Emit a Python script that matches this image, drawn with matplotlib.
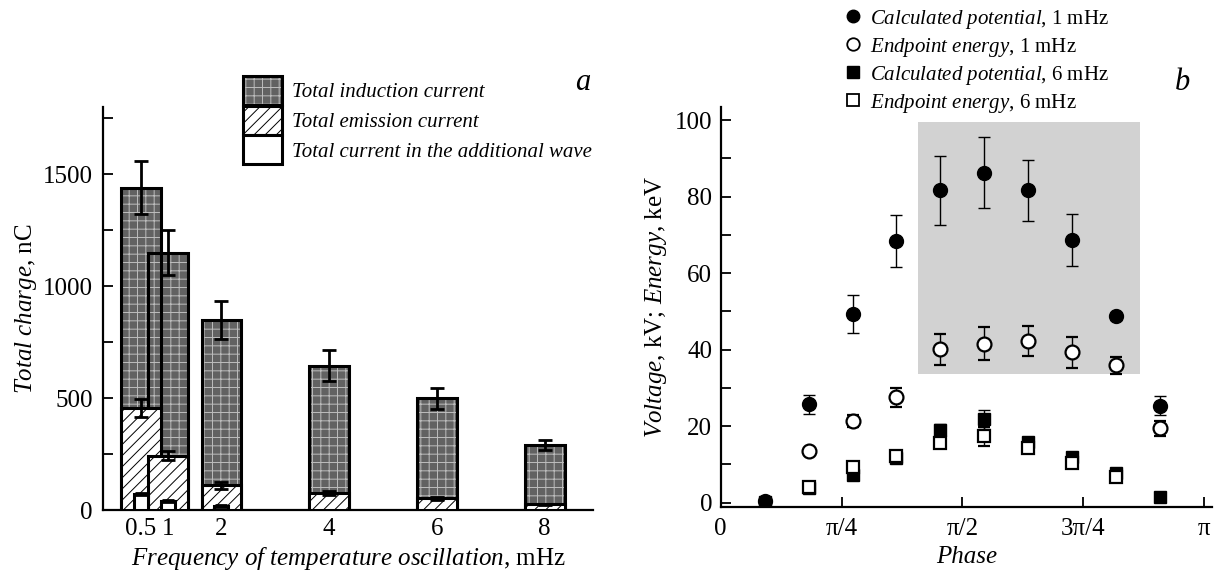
import numpy as np
import matplotlib.pyplot as plt
from matplotlib.patches import Patch, Rectangle
from matplotlib.lines import Line2D

plt.rcParams['font.family'] = ['Liberation Serif', 'DejaVu Serif']
plt.rcParams['mathtext.fontset'] = 'custom'
plt.rcParams['mathtext.rm'] = 'Liberation Serif'
plt.rcParams['mathtext.it'] = 'Liberation Serif:italic'
plt.rcParams['hatch.linewidth'] = 0.7

# ---- panel a : total charge vs frequency
freq = [0.5, 1, 2, 4, 6, 8]
freq_labels = ['0.5', '1', '2', '4', '6', '8']
induction = [1440, 1150, 850, 645, 500, 290]
induction_err = [120, 100, 85, 70, 47, 22]
emission = [455, 242, 110, 75, 52, 25]
emission_err = [40, 20, 15, 8, 5, 3]
wave_freq = [0.5, 1, 2]
wave = [72, 40, 18]
wave_err = [6, 4, 3]

# ---- panel b : voltage / energy vs phase
ph = [0.286, 0.571, 0.857, 1.142, 1.428, 1.714, 2.000, 2.285, 2.570, 2.856]
calc1 = [0.5, 25.7, 49.3, 68.4, 81.7, 86.3, 81.6, 68.7, 48.7, 25.4]
calc1_err = [0, 2.5, 5, 6.7, 9, 9.4, 8, 6.8, 1, 2.5]
end1_ph = ph[1:]
end1 = [13.5, 21.4, 27.5, 40.1, 41.6, 42.3, 39.3, 35.9, 19.4]
end1_err = [0.5, 1.5, 2.5, 4, 4.2, 4, 4, 2.3, 2]
calc6 = [0.3, 3.8, 7.2, 11.8, 19.0, 21.8, 15.9, 12.0, 7.8, 1.6]
calc6_err = [0, 0, 0.5, 0.5, 1.5, 2.5, 1, 0.5, 0.5, 0]
end6_ph = ph[1:9]
end6 = [4.2, 9.4, 12.2, 15.7, 17.4, 14.4, 10.5, 6.6]
end6_err = [1, 0.5, 0.5, 1.5, 2.5, 1, 0.5, 0.5]

fig = plt.figure(figsize=(12.19, 5.78), dpi=100)
ax1 = fig.add_axes([0.0845, 0.1176, 0.402, 0.6973])
ax2 = fig.add_axes([0.5912, 0.1223, 0.4031, 0.6931])

IND_FACE, IND_HATCH = '#626262', '#bdbdbd'
bw = 0.74
# induction bars (texture + outline)
ax1.bar(freq, induction, width=bw, color=IND_FACE, hatch='++', edgecolor=IND_HATCH, lw=0, zorder=2)
ax1.bar(freq, induction, width=bw, fill=False, edgecolor='k', lw=2.2, zorder=2.1)
ax1.errorbar(freq, induction, yerr=induction_err, fmt='none', ecolor='k', elinewidth=2,
             capsize=5, capthick=2, zorder=2.2)
# emission bars
ax1.bar(freq, emission, width=bw, facecolor='white', hatch='///', edgecolor='k', lw=2.2, zorder=3)
ax1.errorbar(freq, emission, yerr=emission_err, fmt='none', ecolor='k', elinewidth=2,
             capsize=5, capthick=2, zorder=3.1)
# additional wave
ax1.bar(wave_freq, wave, width=0.26, facecolor='white', edgecolor='k', lw=2.2, zorder=4)
ax1.errorbar(wave_freq, wave, yerr=wave_err, fmt='none', ecolor='k', elinewidth=2,
             capsize=4, capthick=2, zorder=4.1)

ax1.set_xlim(-0.2, 8.9)
ax1.set_ylim(0, 1800)
ax1.set_xticks(freq)
ax1.set_xticklabels(freq_labels)
ax1.set_yticks([0, 500, 1000, 1500])
ax1.set_yticks([250, 750, 1250, 1750], minor=True)
ax1.tick_params(axis='y', which='both', direction='in', length=7, width=1.3, labelsize=18, pad=7.5)
ax1.tick_params(axis='x', length=0, labelsize=18, pad=6)
ax1.set_ylabel(r'$\it{Total\ charge}$, nC', fontsize=18, labelpad=2.5)
ax1.set_xlabel(r'$\it{Frequency\ of\ temperature\ oscillation}$, mHz', fontsize=18, labelpad=3)
for s in ['top', 'right']:
    ax1.spines[s].set_visible(False)
for s in ['left', 'bottom']:
    ax1.spines[s].set_linewidth(1.6)

h_ind = (Patch(facecolor=IND_FACE, hatch='++', edgecolor=IND_HATCH, lw=0),
         Patch(fill=False, edgecolor='k', lw=2.2))
h_em = Patch(facecolor='white', hatch='///', edgecolor='k', lw=2.2)
h_wave = Patch(facecolor='white', edgecolor='k', lw=2.2)
fig.legend([h_ind, h_em, h_wave],
           ['Total induction current', 'Total emission current', 'Total current in the additional wave'],
           loc='upper left', bbox_to_anchor=(0.1993, 0.8685), frameon=False,
           prop={'style': 'italic', 'size': 15}, handlelength=1.87, handleheight=1.78,
           labelspacing=0.02, handletextpad=0.48, borderaxespad=0, borderpad=0)
fig.text(0.478, 0.858, 'a', fontsize=22, style='italic', ha='center', va='center')

# ---- panel b
ax2.add_patch(Rectangle((1.285, 33.6), 1.441, 66.0, facecolor='#d2d2d2', edgecolor='none', zorder=0.5))
ms = 9
ax2.errorbar(ph, calc6, yerr=calc6_err, fmt='s', color='k', ms=ms, elinewidth=1, capsize=4, zorder=3)
ax2.errorbar(end6_ph, end6, yerr=end6_err, fmt='s', mfc='white', mec='k', mew=1.6, ecolor='k',
             ms=ms, elinewidth=1, capsize=4, zorder=4)
ax2.errorbar(ph, calc1, yerr=calc1_err, fmt='o', color='k', ms=ms + 1, elinewidth=1, capsize=4, zorder=5)
ax2.errorbar(end1_ph, end1, yerr=end1_err, fmt='o', mfc='white', mec='k', mew=1.6, ecolor='k',
             ms=ms + 1, elinewidth=1, capsize=4, zorder=6)

ax2.set_xlim(0, 3.193)
ax2.set_ylim(-1.2, 103.5)
ax2.set_xticks([0, np.pi / 4, np.pi / 2, 3 * np.pi / 4, np.pi])
ax2.set_xticklabels(['0', 'π/4', 'π/2', '3π/4', 'π'])
ax2.set_yticks([0, 20, 40, 60, 80, 100])
ax2.set_yticks([10, 30, 50, 70, 90], minor=True)
ax2.tick_params(which='both', direction='in', length=7, width=1.3, labelsize=18)
ax2.tick_params(axis='x', pad=8)
ax2.tick_params(axis='y', pad=6)
ax2.set_ylabel(r'$\it{Voltage}$, kV; $\it{Energy}$, keV', fontsize=18, labelpad=4)
ax2.set_xlabel('Phase', style='italic', fontsize=18)
for s in ['top', 'right']:
    ax2.spines[s].set_visible(False)
for s in ['left', 'bottom']:
    ax2.spines[s].set_linewidth(1.6)

handles_b = [Line2D([], [], ls='none', marker='o', color='k', ms=9),
             Line2D([], [], ls='none', marker='o', mfc='white', mec='k', mew=1.3, ms=9),
             Line2D([], [], ls='none', marker='s', color='k', ms=8),
             Line2D([], [], ls='none', marker='s', mfc='white', mec='k', mew=1.3, ms=8)]
labels_b = [r'$\it{Calculated\ potential}$, 1 mHz', r'$\it{Endpoint\ energy}$, 1 mHz',
            r'$\it{Calculated\ potential}$, 6 mHz', r'$\it{Endpoint\ energy}$, 6 mHz']
fig.legend(handles_b, labels_b, loc='upper left', bbox_to_anchor=(0.693, 0.987), frameon=False,
           fontsize=15, handlelength=0.8, handletextpad=0.4, labelspacing=0.24,
           borderaxespad=0, borderpad=0)
fig.text(0.970, 0.858, 'b', fontsize=22, style='italic', ha='center', va='center')

fig.savefig('out.png', dpi=100)
